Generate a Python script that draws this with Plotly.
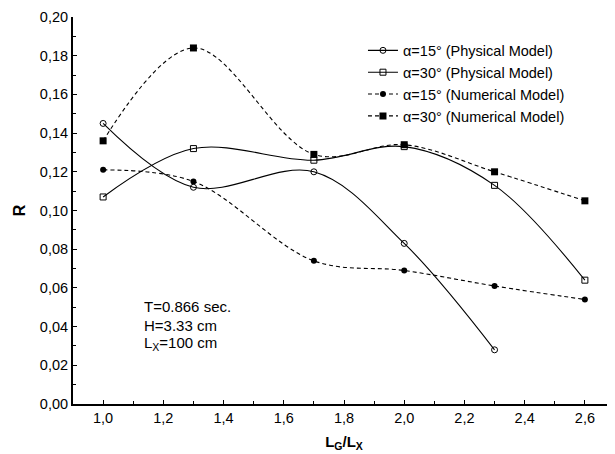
import plotly.graph_objects as go

x_vals = [1.0, 1.3, 1.7, 2.0, 2.3, 2.6]

phys15_x = [1.0, 1.3, 1.7, 2.0, 2.3]
phys15_y = [0.145, 0.112, 0.120, 0.083, 0.028]

phys30_x = x_vals
phys30_y = [0.107, 0.132, 0.126, 0.133, 0.113, 0.064]

num15_x = x_vals
num15_y = [0.121, 0.115, 0.074, 0.069, 0.061, 0.054]

num30_x = x_vals
num30_y = [0.136, 0.184, 0.129, 0.134, 0.120, 0.105]

series_names = [
    "α=15° (Physical Model)",
    "α=30° (Physical Model)",
    "α=15° (Numerical Model)",
    "α=30° (Numerical Model)",
]

y_ticks = [0.0, 0.02, 0.04, 0.06, 0.08, 0.10, 0.12, 0.14, 0.16, 0.18, 0.20]
x_ticks = [1.0, 1.2, 1.4, 1.6, 1.8, 2.0, 2.2, 2.4, 2.6]

FONT = "Liberation Sans, Arial, sans-serif"

fig = go.Figure()

fig.add_trace(go.Scatter(
    x=phys15_x, y=phys15_y, name=series_names[0], mode="lines+markers",
    line=dict(color="black", width=1.1, shape="spline", smoothing=1.0),
    marker=dict(symbol="circle-open", size=6, color="black", line=dict(width=1)),
))
fig.add_trace(go.Scatter(
    x=phys30_x, y=phys30_y, name=series_names[1], mode="lines+markers",
    line=dict(color="black", width=1.1, shape="spline", smoothing=1.0),
    marker=dict(symbol="square-open", size=6, color="black", line=dict(width=1)),
))
fig.add_trace(go.Scatter(
    x=num15_x, y=num15_y, name=series_names[2], mode="lines+markers",
    line=dict(color="black", width=1.1, shape="spline", smoothing=1.0, dash="4px,3px"),
    marker=dict(symbol="circle", size=6, color="black"),
))
fig.add_trace(go.Scatter(
    x=num30_x, y=num30_y, name=series_names[3], mode="lines+markers",
    line=dict(color="black", width=1.1, shape="spline", smoothing=1.0, dash="4px,3px"),
    marker=dict(symbol="square", size=7, color="black"),
))

annot_font = dict(family=FONT, size=15, color="black")
fig.add_annotation(x=1.13, y=0.0502, xref="x", yref="y", text="T=0.866 sec.",
                   showarrow=False, xanchor="left", yanchor="middle", font=annot_font)
fig.add_annotation(x=1.13, y=0.0407, xref="x", yref="y", text="H=3.33 cm",
                   showarrow=False, xanchor="left", yanchor="middle", font=annot_font)
fig.add_annotation(x=1.13, y=0.0312, xref="x", yref="y", text="L<sub>X</sub>=100 cm",
                   showarrow=False, xanchor="left", yanchor="middle", font=annot_font)

# the page body adds an 8px offset, so the figure is sized to end at the window edge
fig.update_layout(
    width=607, height=446,
    margin=dict(l=65, r=0, t=9, b=50, autoexpand=False),
    paper_bgcolor="white", plot_bgcolor="white",
    separators=", ",
    font=dict(family=FONT, size=14, color="black"),
    showlegend=True,
    legend=dict(x=0.535, y=0.955, xanchor="left", yanchor="top",
                bgcolor="rgba(0,0,0,0)", font=dict(family=FONT, size=14.5),
                tracegroupgap=0, itemwidth=30),
    xaxis=dict(
        range=[0.9, 2.7], tickvals=x_ticks, tickformat=".1f", automargin=False,
        showgrid=False, zeroline=False, showline=True, linecolor="black", linewidth=2,
        ticks="inside", ticklen=4, tickcolor="black", tickwidth=1,
        minor=dict(dtick=0.1, tick0=0.9, ticks="inside", ticklen=3, tickcolor="black", showgrid=False),
        title=dict(text="<b>L<sub>G</sub>/L<sub>X</sub></b>", standoff=11,
                   font=dict(family=FONT, size=15)),
        tickfont=dict(family=FONT, size=14.5),
    ),
    yaxis=dict(
        range=[0, 0.2], tickvals=y_ticks, tickformat=".2f", automargin=False,
        showgrid=False, zeroline=False, showline=True, linecolor="black", linewidth=2,
        ticks="inside", ticklen=4, tickcolor="black", tickwidth=1,
        minor=dict(dtick=0.01, tick0=0, ticks="inside", ticklen=3, tickcolor="black", showgrid=False),
        title=dict(text="<b>R</b>", standoff=10, font=dict(family=FONT, size=16)),
        tickfont=dict(family=FONT, size=14.5),
    ),
)

fig.write_html("out.html")
